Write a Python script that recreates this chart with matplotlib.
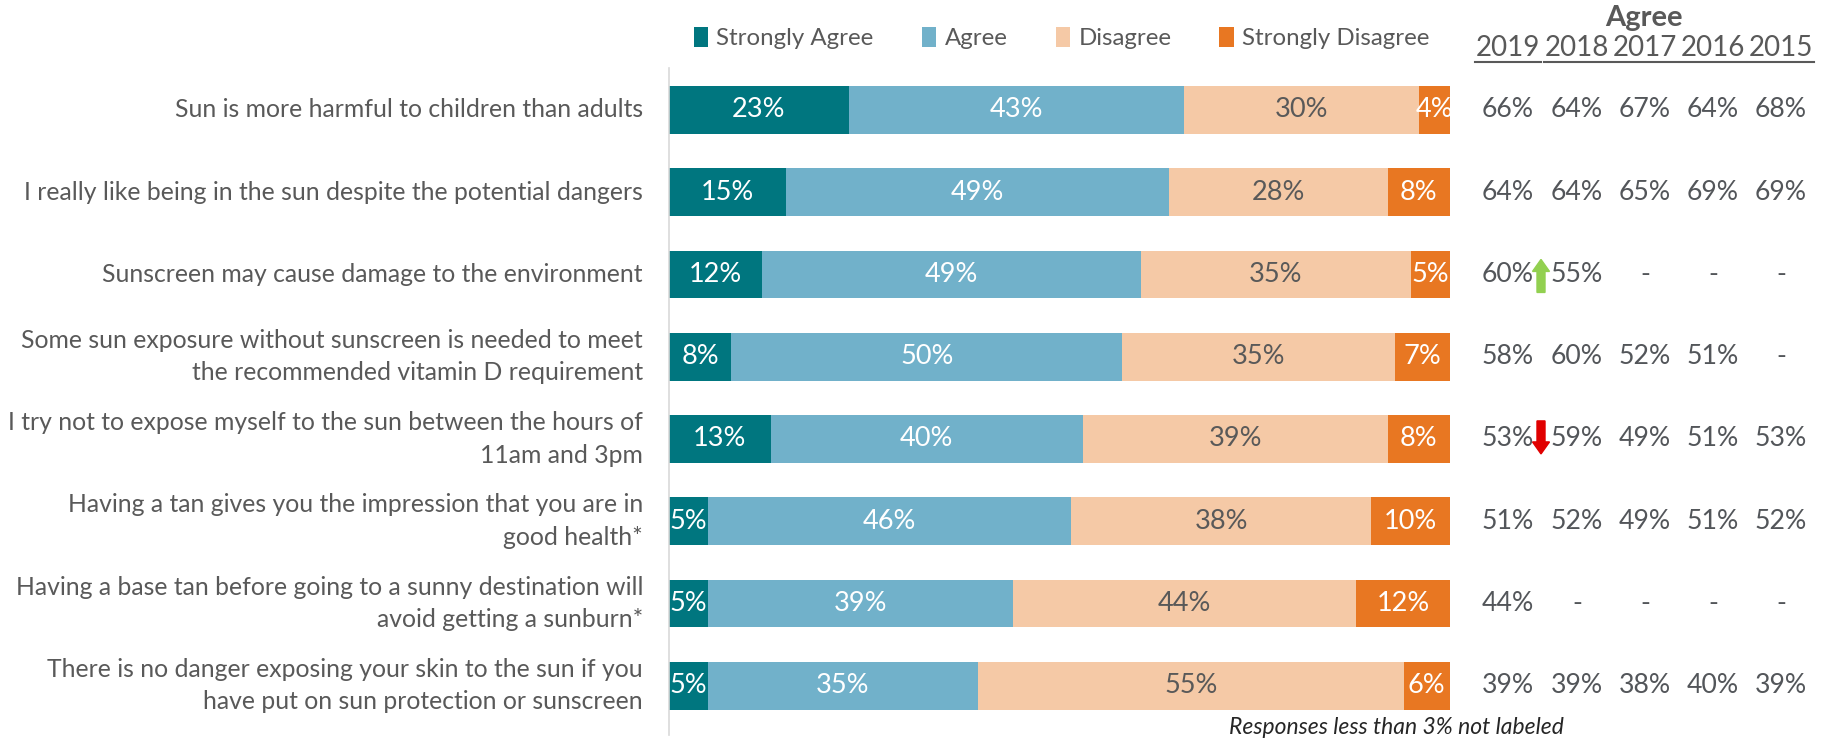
import matplotlib
matplotlib.use("Agg")
import matplotlib.pyplot as plt
import matplotlib.patches as mpatches
from matplotlib.lines import Line2D
from matplotlib.transforms import blended_transform_factory, IdentityTransform
import numpy as np

plt.rcParams['font.family'] = ['Lato', 'DejaVu Sans']

categories = [
    "Sun is more harmful to children than adults",
    "I really like being in the sun despite the potential dangers",
    "Sunscreen may cause damage to the environment",
    "Some sun exposure without sunscreen is needed to meet\nthe recommended vitamin D requirement",
    "I try not to expose myself to the sun between the hours of\n11am and 3pm",
    "Having a tan gives you the impression that you are in\ngood health*",
    "Having a base tan before going to a sunny destination will\navoid getting a sunburn*",
    "There is no danger exposing your skin to the sun if you\nhave put on sun protection or sunscreen",
]
series_names = ["Strongly Agree", "Agree", "Disagree", "Strongly Disagree"]
strongly_agree = [23, 15, 12, 8, 13, 5, 5, 5]
agree = [43, 49, 49, 50, 40, 46, 39, 35]
disagree = [30, 28, 35, 35, 39, 38, 44, 55]
strongly_disagree = [4, 8, 5, 7, 8, 10, 12, 6]

years = ["2019", "2018", "2017", "2016", "2015"]
agree_2019 = [66, 64, 60, 58, 53, 51, 44, 39]
agree_2018 = [64, 64, 55, 60, 59, 52, None, 39]
agree_2017 = [67, 65, None, 52, 49, 49, None, 38]
agree_2016 = [64, 69, None, 51, 51, 51, None, 40]
agree_2015 = [68, 69, None, None, 53, 52, None, 39]
# trend markers between 2019 and 2018 columns
trend_up_rows = [2]
trend_down_rows = [4]

colors = ["#00767F", "#71B1CA", "#F5C9A6", "#E87722"]
label_colors = ["white", "white", "#595959", "white"]
gray = "#595959"

W, H = 1823, 739
fig = plt.figure(figsize=(W / 100, H / 100), dpi=100)
ax_left, ax_right = 669 / W, 1450 / W
ax_top, ax_bottom = 68 / H, 735 / H
ax = fig.add_axes([ax_left, 1 - ax_bottom, ax_right - ax_left, ax_bottom - ax_top])

series = [strongly_agree, agree, disagree, strongly_disagree]
data = np.array(series, dtype=float)
totals = data.sum(axis=0)
shares = data / totals * 100
y = np.arange(len(categories))
left = np.zeros(len(categories))
for k in range(4):
    ax.barh(y, shares[k], left=left, height=0.58, color=colors[k], label=series_names[k])
    for i in range(len(categories)):
        ax.text(left[i] + shares[k][i] / 2, y[i], f"{int(data[k][i])}%", ha="center", va="center",
                color=label_colors[k], fontsize=19.5)
    left += shares[k]

ax.set_xlim(0, 100)
ax.set_ylim(len(categories) - 1 + 0.6, -0.51)
ax.set_xticks([])
ax.set_yticks([])
for s in ["top", "right", "bottom"]:
    ax.spines[s].set_visible(False)
ax.spines["left"].set_color("#D9D9D9")
ax.spines["left"].set_linewidth(1.2)

# category labels
trans_lab = blended_transform_factory(fig.transFigure, ax.transData)
for i, c in enumerate(categories):
    ax.text(643 / W, y[i], c, transform=trans_lab, ha="right", va="center", fontsize=17.8,
            color=gray, multialignment="right", linespacing=1.5)

# legend
leg = fig.legend(loc="center left", bbox_to_anchor=(684 / W, 1 - 38 / H), ncol=4, frameon=False,
                 fontsize=17.3, handlelength=0.6, handleheight=0.9, handletextpad=0.35,
                 columnspacing=2.0, labelcolor=gray, borderaxespad=0)

# table
col_x = [1508, 1577, 1645, 1713, 1781]
table = [agree_2019, agree_2018, agree_2017, agree_2016, agree_2015]
fig.text(1644 / W, 1 - 18 / H, "Agree", ha="center", va="center", fontsize=21, fontweight="bold", color=gray)
for j, yr in enumerate(years):
    fig.text(col_x[j] / W, 1 - 48 / H, yr, ha="center", va="center", fontsize=20, color=gray)
    fig.add_artist(Line2D([(col_x[j] - 33) / W, (col_x[j] + 33) / W], [1 - 62 / H, 1 - 62 / H],
                          transform=fig.transFigure, color=gray, lw=1.5))
    for i in range(len(categories)):
        v = table[j][i]
        txt = f"{v}%" if v is not None else "-"
        ax.text(col_x[j] / W, y[i], txt, transform=trans_lab, ha="center", va="center",
                fontsize=19.2, color="#53565A")

# trend arrows
fig.canvas.draw()
def draw_arrow(row, up, color):
    px = 1541
    _, cy = ax.transData.transform((0, y[row]))
    if up:
        ys, dy = cy - 18, 33
    else:
        ys, dy = cy + 18, -33
    arr = mpatches.FancyArrow(px, ys, 0, dy, width=8, head_width=17, head_length=12,
                              length_includes_head=True, color=color, transform=IdentityTransform())
    fig.add_artist(arr)

for r in trend_up_rows:
    draw_arrow(r, True, "#92D050")
for r in trend_down_rows:
    draw_arrow(r, False, "#E00000")

fig.text(1564 / W, 1 - 728 / H, "Responses less than 3% not labeled", ha="right", va="center",
         fontsize=16.5, style="italic", color="#262626")

fig.savefig("out.png", dpi=100)
